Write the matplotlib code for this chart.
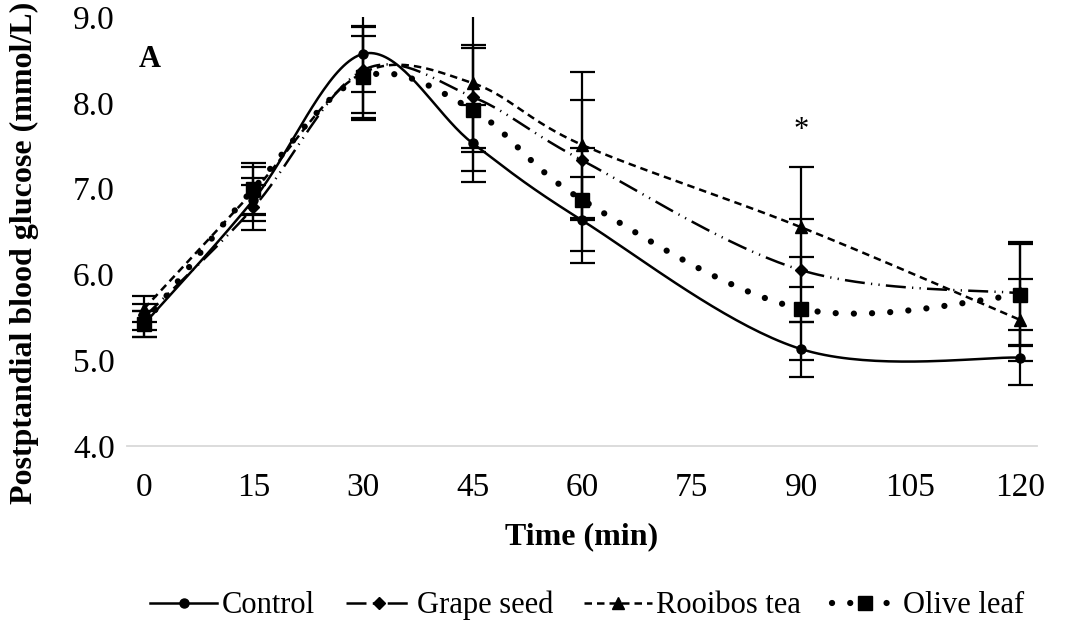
import numpy as np
import matplotlib
matplotlib.use("Agg")
import matplotlib.pyplot as plt
from matplotlib.lines import Line2D

plt.rcParams['font.family'] = ['Liberation Serif', 'DejaVu Serif']

time = [0, 15, 30, 45, 60, 90, 120]
series_names = ["Control", "Grape seed", "Rooibos tea", "Olive leaf"]
control = [5.42, 6.87, 8.57, 7.53, 6.63, 5.13, 5.03]
grape = [5.50, 6.78, 8.38, 8.07, 7.33, 6.05, 5.78]
rooibos = [5.60, 6.97, 8.35, 8.23, 7.51, 6.55, 5.47]
olive = [5.42, 7.00, 8.30, 7.92, 6.87, 5.60, 5.76]
control_err = [0.15, 0.25, 0.45, 0.45, 0.50, 0.32, 0.32]
grape_err = [0.15, 0.26, 0.50, 0.60, 0.70, 0.60, 0.60]
rooibos_err = [0.15, 0.28, 0.55, 0.80, 0.85, 0.70, 0.48]
olive_err = [0.15, 0.30, 0.48, 0.72, 0.60, 0.60, 0.60]
x_ticks = [0, 15, 30, 45, 60, 75, 90, 105, 120]
y_ticks = [4.0, 5.0, 6.0, 7.0, 8.0, 9.0]


def smooth(xs, ys, n=40):
    """Excel-like smoothed line (Catmull-Rom Bezier through the points)."""
    P = np.column_stack([xs, ys]).astype(float)
    out = []
    m = len(P)
    for i in range(m - 1):
        p0 = P[i - 1] if i > 0 else P[i]
        p1 = P[i]
        p2 = P[i + 1]
        p3 = P[i + 2] if i + 2 < m else P[i + 1]
        c1 = p1 + (p2 - p0) / 6.0
        c2 = p2 - (p3 - p1) / 6.0
        t = np.linspace(0, 1, n)[:, None]
        b = ((1 - t) ** 3) * p1 + 3 * ((1 - t) ** 2) * t * c1 + 3 * (1 - t) * t ** 2 * c2 + t ** 3 * p2
        out.append(b if i == 0 else b[1:])
    B = np.vstack(out)
    return B[:, 0], B[:, 1]


fig = plt.figure(figsize=(10.68, 6.41), dpi=100)
ax = fig.add_axes([0.1191, 0.3042, 0.8517, 0.6693])

styles = [
    dict(ls='-', lw=1.8, marker='o', ms=6.5, cap='butt'),
    dict(ls=(0, (8, 2.5, 0.5, 2.5, 0.5, 2.5)), lw=1.8, marker='D', ms=6.5, cap='butt'),
    dict(ls=(0, (3.0, 2.0)), lw=1.8, marker='^', ms=8.0, cap='butt'),
    dict(ls=(0, (0.01, 2.9)), lw=4.5, marker='s', ms=9.5, cap='round'),
]
data = [control, grape, rooibos, olive]
errs = [control_err, grape_err, rooibos_err, olive_err]

handles = []
for name, ys, es, st in zip(series_names, data, errs, styles):
    ax.errorbar(time, ys, yerr=es, fmt='none', ecolor='black', elinewidth=1.6,
                capsize=9, capthick=1.6, zorder=2)
    sx, sy = smooth(time, ys)
    ax.plot(sx, sy, color='black', linestyle=st['ls'], lw=st['lw'],
            dash_capstyle=st['cap'], solid_capstyle='butt', zorder=3)
    ax.plot(time, ys, linestyle='none', marker=st['marker'], ms=st['ms'],
            color='black', zorder=4)
    handles.append(Line2D([], [], color='black', linestyle=st['ls'], lw=st['lw'],
                          dash_capstyle=st['cap'], marker=st['marker'], ms=st['ms'],
                          label=name))

ax.set_xlim(-2.3, 122.3)
ax.set_ylim(4.0, 9.0)
ax.set_xticks(x_ticks)
ax.set_xticklabels([str(v) for v in x_ticks])
ax.set_yticks(y_ticks)
ax.set_yticklabels([f"{v:.1f}" for v in y_ticks])
ax.tick_params(axis='both', length=0, labelsize=24, colors='black')
ax.tick_params(axis='x', pad=19)
ax.tick_params(axis='y', pad=9)
for s in ['top', 'right', 'left']:
    ax.spines[s].set_visible(False)
ax.spines['bottom'].set_color('#d9d9d9')
ax.spines['bottom'].set_linewidth(1.3)

ax.set_xlabel("Time (min)", fontsize=23, fontweight='bold', labelpad=14)
ax.set_ylabel("Postptandial blood glucose (mmol/L)", fontsize=23, fontweight='bold')
ax.yaxis.set_label_coords(-0.097, 0.45)

ax.text(0.8, 8.5, "A", fontsize=22, fontweight='bold', ha='center', va='center')
ax.text(90, 7.68, "*", fontsize=22, ha='center', va='center')

fig.legend(handles=handles, loc='center', bbox_to_anchor=(0.55, 0.055), ncol=4,
           frameon=False, fontsize=22, handlelength=2.2, handletextpad=0.15,
           columnspacing=1.0)

fig.savefig("out.png", dpi=100)
